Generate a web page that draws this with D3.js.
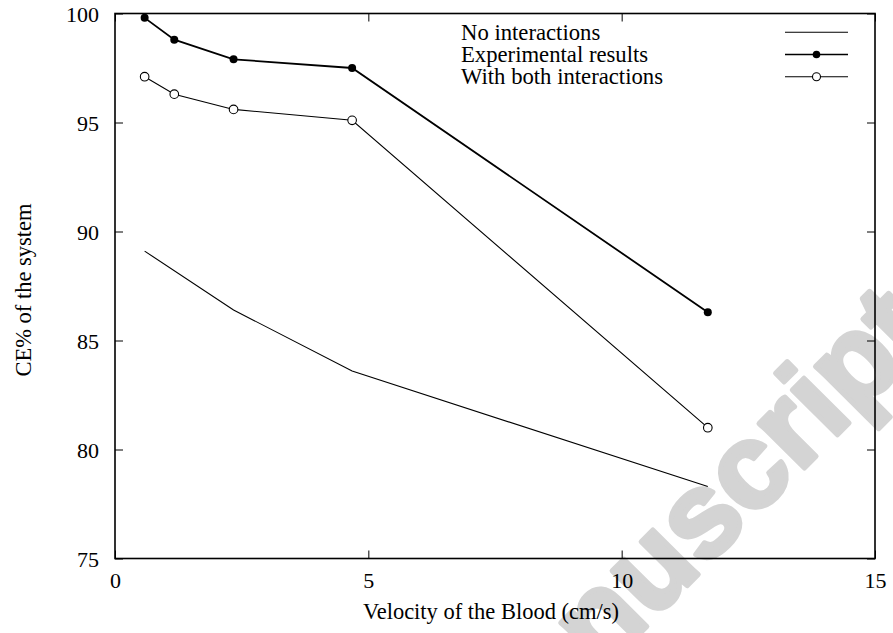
<!DOCTYPE html>
<html>
<head>
<meta charset="utf-8">
<script src="https://cdn.jsdelivr.net/npm/d3@7"></script>
<style>
  html, body { margin: 0; padding: 0; background: #fff; }
  svg { display: block; }
  text { font-family: "Liberation Serif", "Times New Roman", Times, serif; fill: #000; }
</style>
</head>
<body>
<svg id="chart" width="893" height="633"></svg>
<script>
// Capture efficiency of the system versus blood velocity
const velocity = [0.585, 1.17, 2.34, 4.68, 11.7];
const experimental = [99.8, 98.8, 97.9, 97.5, 86.3];
const bothInteractions = [97.1, 96.3, 95.6, 95.1, 81.0];
const noInteractionVelocity = [0.585, 2.34, 4.68, 11.7];
const noInteractions = [89.1, 86.4, 83.6, 78.3];

const xTicks = [0, 5, 10, 15];
const yTicks = [75, 80, 85, 90, 95, 100];
const seriesNames = ["No interactions", "Experimental results", "With both interactions"];

const svg = d3.select("#chart");
const plotLeft = 115, plotRight = 875, plotTop = 13.5, plotBottom = 558.5;

// Diagonal background stamp: placed so two of its letters sit on chosen anchor points
(function stamp() {
  const label = "Accepted Manuscript";
  const a = { i: 12, px: 655, py: 572 };   // "u"
  const b = { i: 17, px: 858, py: 368 };   // "p"
  const t = svg.append("text")
    .style("font-family", "'Liberation Sans', Arial, Helvetica, sans-serif")
    .style("font-weight", "bold")
    .style("font-size", "100px")
    .style("fill", "#d4d4d4")
    .style("stroke", "#d4d4d4")
    .style("stroke-width", 5)
    .style("stroke-linejoin", "round")
    .text(label);
  const node = t.node();
  const ea = node.getExtentOfChar(a.i), eb = node.getExtentOfChar(b.i);
  const dLocal = (eb.x + eb.width / 2) - (ea.x + ea.width / 2);
  const dx = b.px - a.px, dy = b.py - a.py;
  const scale = Math.hypot(dx, dy) / dLocal;
  const ang = Math.atan2(dy, dx);
  t.style("font-size", (100 * scale) + "px");
  const e2 = node.getExtentOfChar(a.i);
  const lx = e2.x + e2.width / 2, ly = -0.27 * 100 * scale;
  const c = Math.cos(ang), s = Math.sin(ang);
  const tx = a.px - (lx * c - ly * s), ty = a.py - (lx * s + ly * c);
  t.attr("transform", `translate(${tx},${ty}) rotate(${ang * 180 / Math.PI})`);
})();

const x = d3.scaleLinear().domain([0, 15]).range([plotLeft, plotRight]);
const y = d3.scaleLinear().domain([75, 100]).range([plotBottom, plotTop]);

// Axes with inward ticks on all four sides
const tick = 8;
const gx = svg.append("g").attr("transform", `translate(0,${plotBottom})`)
  .call(d3.axisBottom(x).tickValues(xTicks).tickSize(-tick).tickSizeOuter(0).tickPadding(0));
const gy = svg.append("g").attr("transform", `translate(${plotLeft},0)`)
  .call(d3.axisLeft(y).tickValues(yTicks).tickSize(-tick).tickSizeOuter(0).tickPadding(0));
const gt = svg.append("g").attr("transform", `translate(0,${plotTop})`)
  .call(d3.axisTop(x).tickValues(xTicks).tickSize(-tick).tickSizeOuter(0).tickFormat(""));
const gr = svg.append("g").attr("transform", `translate(${plotRight},0)`)
  .call(d3.axisRight(y).tickValues(yTicks).tickSize(-tick).tickSizeOuter(0).tickFormat(""));

[gx, gy, gt, gr].forEach(g => {
  g.select(".domain").remove();
  g.selectAll(".tick line").attr("stroke", "#000").attr("stroke-width", 1);
});

gx.selectAll(".tick text")
  .attr("y", 29).attr("dy", null)
  .style("font-size", "22px").style("font-family", "'Liberation Serif', serif");
gy.selectAll(".tick text")
  .attr("x", -16).attr("dy", "0.35em")
  .style("font-size", "22px").style("font-family", "'Liberation Serif', serif");

// Frame
svg.append("rect")
  .attr("x", plotLeft).attr("y", plotTop)
  .attr("width", plotRight - plotLeft).attr("height", plotBottom - plotTop)
  .attr("fill", "none").attr("stroke", "#000").attr("stroke-width", 1.6);

// Axis titles
svg.append("text")
  .attr("x", (plotLeft + plotRight) / 2 - 4).attr("y", 619)
  .attr("text-anchor", "middle")
  .style("font-size", "22.5px")
  .text("Velocity of the Blood (cm/s)");
svg.append("text")
  .attr("transform", `translate(31,${(plotTop + plotBottom) / 2 + 4}) rotate(-90)`)
  .attr("text-anchor", "middle")
  .style("font-size", "22.5px")
  .text("CE% of the system");

const line = d3.line().x(d => x(d[0])).y(d => y(d[1]));

// No interactions
svg.append("path")
  .datum(noInteractionVelocity.map((v, i) => [v, noInteractions[i]]))
  .attr("d", line).attr("fill", "none").attr("stroke", "#000").attr("stroke-width", 1.1);

// With both interactions
const both = velocity.map((v, i) => [v, bothInteractions[i]]);
svg.append("path").datum(both)
  .attr("d", line).attr("fill", "none").attr("stroke", "#000").attr("stroke-width", 1.1);
svg.append("g").selectAll("circle").data(both).join("circle")
  .attr("cx", d => x(d[0])).attr("cy", d => y(d[1])).attr("r", 4.3)
  .attr("fill", "#fff").attr("stroke", "#000").attr("stroke-width", 1.1);

// Experimental results
const exp = velocity.map((v, i) => [v, experimental[i]]);
svg.append("path").datum(exp)
  .attr("d", line).attr("fill", "none").attr("stroke", "#000").attr("stroke-width", 1.8);
svg.append("g").selectAll("circle").data(exp).join("circle")
  .attr("cx", d => x(d[0])).attr("cy", d => y(d[1])).attr("r", 4)
  .attr("fill", "#000");

// Legend
const legY = [32.3, 54.5, 76.7];
const lg = svg.append("g");
seriesNames.forEach((name, i) => {
  lg.append("text").attr("x", 461).attr("y", legY[i] + 7.5)
    .style("font-size", "22.7px").text(name);
  lg.append("line").attr("x1", 785).attr("x2", 848)
    .attr("y1", legY[i]).attr("y2", legY[i])
    .attr("stroke", "#000").attr("stroke-width", i === 1 ? 1.6 : 1.1);
});
lg.append("circle").attr("cx", 816.5).attr("cy", legY[1]).attr("r", 3.8).attr("fill", "#000");
lg.append("circle").attr("cx", 816.5).attr("cy", legY[2]).attr("r", 4)
  .attr("fill", "#fff").attr("stroke", "#000").attr("stroke-width", 1.1);
</script>
</body>
</html>
